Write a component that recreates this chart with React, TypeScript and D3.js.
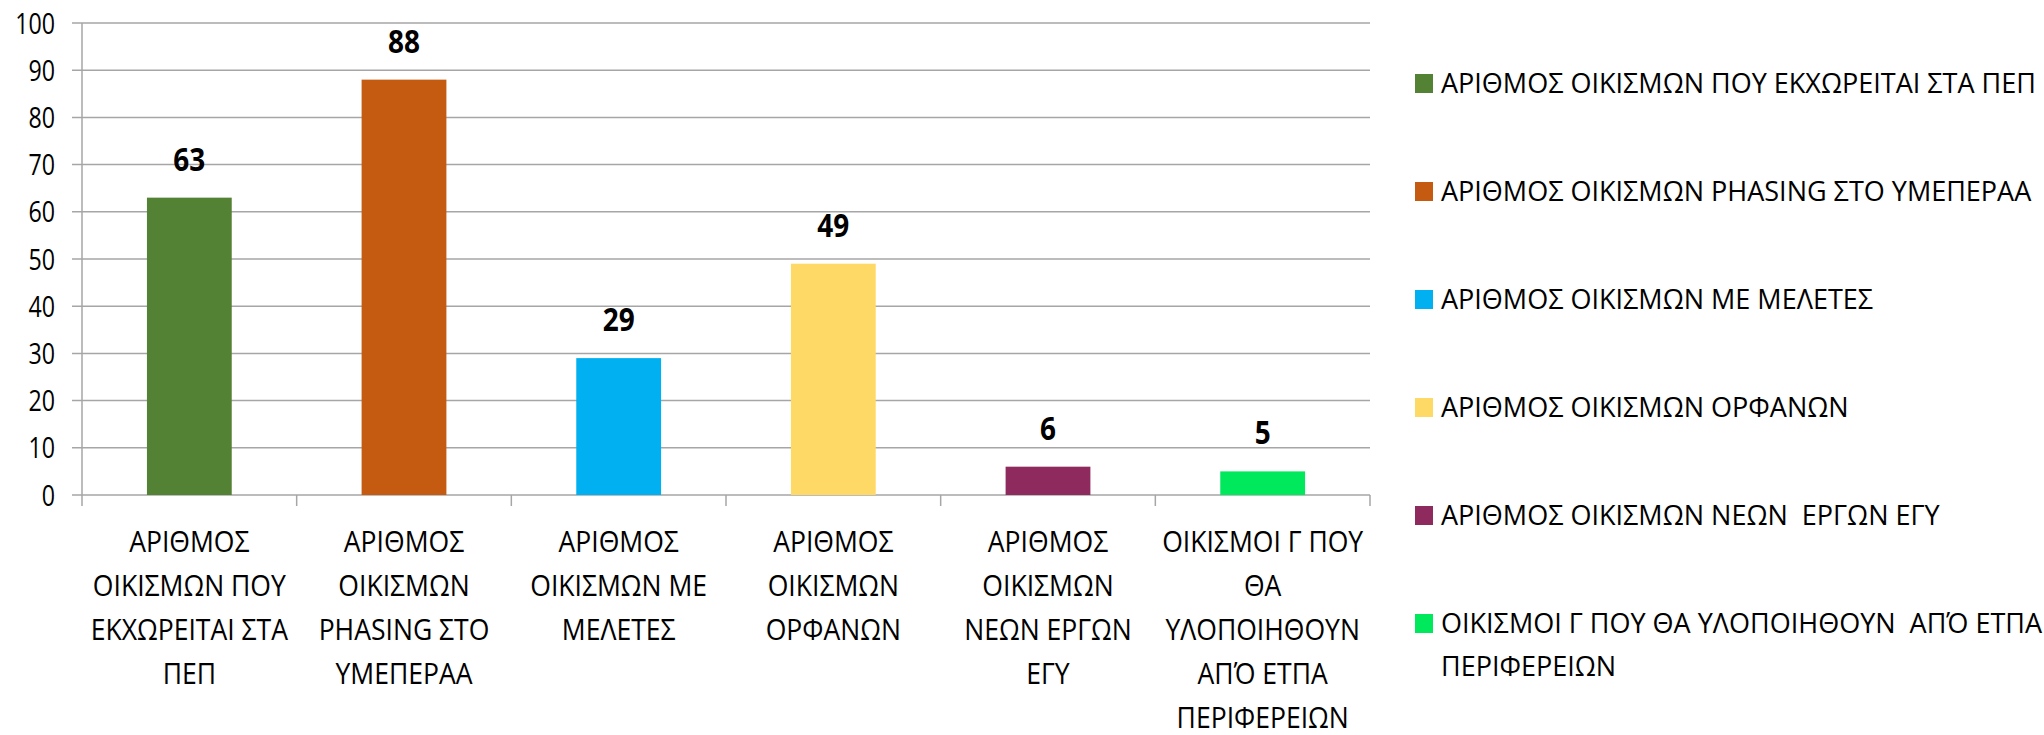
import React, { useEffect } from "react";
import * as d3 from "d3";

const categories = [
  "ΑΡΙΘΜΟΣ ΟΙΚΙΣΜΩΝ ΠΟΥ ΕΚΧΩΡΕΙΤΑΙ ΣΤΑ ΠΕΠ",
  "ΑΡΙΘΜΟΣ ΟΙΚΙΣΜΩΝ PHASING ΣΤΟ ΥΜΕΠΕΡΑΑ",
  "ΑΡΙΘΜΟΣ ΟΙΚΙΣΜΩΝ ΜΕ ΜΕΛΕΤΕΣ",
  "ΑΡΙΘΜΟΣ ΟΙΚΙΣΜΩΝ ΟΡΦΑΝΩΝ",
  "ΑΡΙΘΜΟΣ ΟΙΚΙΣΜΩΝ ΝΕΩΝ ΕΡΓΩΝ ΕΓΥ",
  "ΟΙΚΙΣΜΟΙ Γ ΠΟΥ ΘΑ ΥΛΟΠΟΙΗΘΟΥΝ ΑΠΌ ΕΤΠΑ ΠΕΡΙΦΕΡΕΙΩΝ",
];
const categoryLines = [
  ["ΑΡΙΘΜΟΣ", "ΟΙΚΙΣΜΩΝ ΠΟΥ", "ΕΚΧΩΡΕΙΤΑΙ ΣΤΑ", "ΠΕΠ"],
  ["ΑΡΙΘΜΟΣ", "ΟΙΚΙΣΜΩΝ", "PHASING ΣΤΟ", "ΥΜΕΠΕΡΑΑ"],
  ["ΑΡΙΘΜΟΣ", "ΟΙΚΙΣΜΩΝ ΜΕ", "ΜΕΛΕΤΕΣ"],
  ["ΑΡΙΘΜΟΣ", "ΟΙΚΙΣΜΩΝ", "ΟΡΦΑΝΩΝ"],
  ["ΑΡΙΘΜΟΣ", "ΟΙΚΙΣΜΩΝ", "ΝΕΩΝ ΕΡΓΩΝ", "ΕΓΥ"],
  ["ΟΙΚΙΣΜΟΙ Γ ΠΟΥ", "ΘΑ", "ΥΛΟΠΟΙΗΘΟΥΝ", "ΑΠΌ ΕΤΠΑ", "ΠΕΡΙΦΕΡΕΙΩΝ"],
];
const legendLines = [
  ["ΑΡΙΘΜΟΣ ΟΙΚΙΣΜΩΝ ΠΟΥ ΕΚΧΩΡΕΙΤΑΙ ΣΤΑ ΠΕΠ"],
  ["ΑΡΙΘΜΟΣ ΟΙΚΙΣΜΩΝ PHASING ΣΤΟ ΥΜΕΠΕΡΑΑ"],
  ["ΑΡΙΘΜΟΣ ΟΙΚΙΣΜΩΝ ΜΕ ΜΕΛΕΤΕΣ"],
  ["ΑΡΙΘΜΟΣ ΟΙΚΙΣΜΩΝ ΟΡΦΑΝΩΝ"],
  ["ΑΡΙΘΜΟΣ ΟΙΚΙΣΜΩΝ ΝΕΩΝ  ΕΡΓΩΝ ΕΓΥ"],
  ["ΟΙΚΙΣΜΟΙ Γ ΠΟΥ ΘΑ ΥΛΟΠΟΙΗΘΟΥΝ  ΑΠΌ ΕΤΠΑ", "ΠΕΡΙΦΕΡΕΙΩΝ"],
];
const values = [63, 88, 29, 49, 6, 5];
const colors = ["#548235", "#C55A11", "#00B0F0", "#FFD966", "#8E2A5D", "#00E85C"];
const yTicks = [0, 10, 20, 30, 40, 50, 60, 70, 80, 90, 100];

const FONT = "'Open Sans', sans-serif";

function NText(props: {
  x: number; y: number; sx: number; size: number; anchor?: string; weight?: string; children: React.ReactNode;
}) {
  return (
    <text
      transform={`translate(${props.x},${props.y}) scale(${props.sx},1)`}
      x={0}
      y={0}
      fontSize={props.size}
      fontWeight={props.weight || "normal"}
      textAnchor={props.anchor || "start"}
      fill="#000"
      style={{ whiteSpace: "pre" }}
    >
      {props.children}
    </text>
  );
}

export default function App() {
  useEffect(() => {
    document.body.style.margin = "0";
  }, []);

  const W = 2044, H = 735;
  const left = 82, right = 1370, top = 23, bottom = 495;
  const x = d3.scaleBand<string>().domain(categories).range([left, right]).padding(0);
  const y = d3.scaleLinear().domain([0, 100]).range([bottom, top]);
  const bw = x.bandwidth() * 0.395;
  const grid = "#A6A6A6";

  return (
    <svg width={W} height={H} style={{ display: "block", background: "#fff", fontFamily: FONT }}>
      {yTicks.map((t) => (
        <g key={t}>
          <line x1={left - 10} x2={right} y1={y(t)} y2={y(t)} stroke={grid} strokeWidth={1.5} />
          <NText x={left - 27} y={y(t) + 10.5} sx={0.8} size={29} anchor="end">
            {t}
          </NText>
        </g>
      ))}
      <line x1={left} x2={left} y1={top} y2={bottom + 11} stroke={grid} strokeWidth={1.5} />
      {categories.map((c) => (
        <line key={c} x1={(x(c) as number) + x.bandwidth()} x2={(x(c) as number) + x.bandwidth()} y1={bottom} y2={bottom + 11} stroke={grid} strokeWidth={1.5} />
      ))}
      {categories.map((c, i) => {
        const cx = (x(c) as number) + x.bandwidth() / 2;
        return (
          <g key={c}>
            <rect x={cx - bw / 2} y={y(values[i])} width={bw} height={y(0) - y(values[i])} fill={colors[i]} />
            <NText x={cx} y={y(values[i]) - 27} sx={0.86} size={32.5} weight="bold" anchor="middle">
              {values[i]}
            </NText>
            {categoryLines[i].map((ln, j) => (
              <NText key={j} x={cx} y={552 + j * 44} sx={0.9} size={29.5} anchor="middle">
                {ln}
              </NText>
            ))}
          </g>
        );
      })}
      {legendLines.map((lines, i) => {
        const cy = 83.5 + i * 108;
        return (
          <g key={i}>
            <rect x={1415} y={cy - 9.5} width={18} height={19} fill={colors[i]} />
            {lines.map((ln, j) => (
              <NText key={j} x={1441} y={cy + 9.5 + j * 42.7} sx={1.0} size={27}>
                {ln}
              </NText>
            ))}
          </g>
        );
      })}
    </svg>
  );
}
